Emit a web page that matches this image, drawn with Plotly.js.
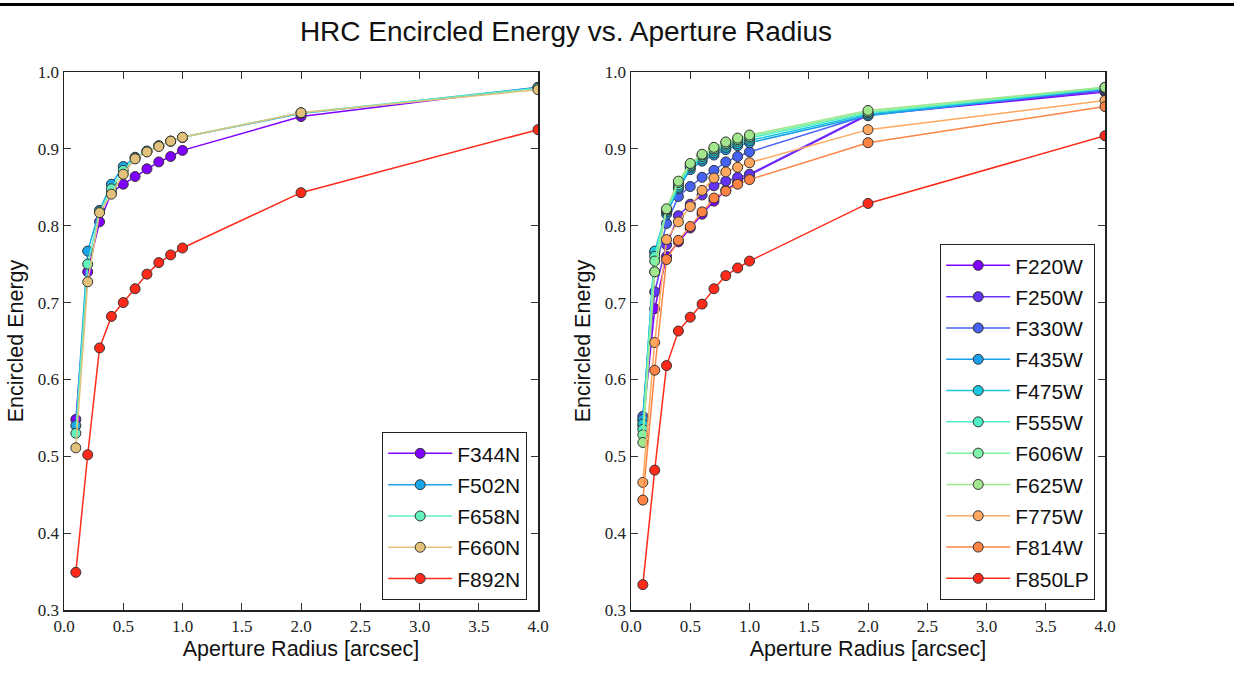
<!DOCTYPE html>
<html>
<head>
<meta charset="utf-8">
<script src="https://cdn.plot.ly/plotly-3.0.1.min.js"></script>
<style>
  html, body { margin: 0; padding: 0; background: #fff; }
  #topbar { position: absolute; left: 0; top: 3px; width: 1234px; height: 3px; background: #000; z-index: 5; }
  #chart { width: 1234px; height: 676px; }
</style>
</head>
<body>
<div id="topbar"></div>
<div id="chart"></div>
<script>
// Aperture radii (arcsec)
const radius = [0.1, 0.2, 0.3, 0.4, 0.5, 0.6, 0.7, 0.8, 0.9, 1.0, 2.0, 4.0];

// Left panel: narrow-band filters
const leftNames = ["F344N", "F502N", "F658N", "F660N", "F892N"];
const F344N = [0.548, 0.740, 0.805, 0.843, 0.854, 0.864, 0.874, 0.883, 0.890, 0.898, 0.942, 0.980];
const F502N = [0.540, 0.767, 0.820, 0.854, 0.877, 0.889, 0.897, 0.904, 0.910, 0.915, 0.946, 0.980];
const F658N = [0.530, 0.750, 0.818, 0.848, 0.872, 0.888, 0.897, 0.904, 0.910, 0.915, 0.947, 0.979];
const F660N = [0.511, 0.727, 0.817, 0.841, 0.867, 0.887, 0.896, 0.903, 0.910, 0.915, 0.947, 0.977];
const F892N = [0.349, 0.502, 0.641, 0.682, 0.700, 0.718, 0.737, 0.752, 0.762, 0.771, 0.843, 0.925];
const leftValues = [F344N, F502N, F658N, F660N, F892N];
const leftColors = ["#8000ff", "#1aa6e8", "#62f0bc", "#e2c27a", "#ff2a1a"];

// Right panel: wide-band and long-pass filters
const rightNames = ["F220W", "F250W", "F330W", "F435W", "F475W", "F555W", "F606W", "F625W", "F775W", "F814W", "F850LP"];
const F220W  = [0.540, 0.692, 0.760, 0.779, 0.797, 0.815, 0.832, 0.846, 0.857, 0.866, 0.944, 0.974];
const F250W  = [0.547, 0.714, 0.775, 0.813, 0.828, 0.840, 0.852, 0.858, 0.863, 0.867, 0.945, 0.975];
const F330W  = [0.552, 0.740, 0.803, 0.838, 0.851, 0.863, 0.872, 0.883, 0.890, 0.896, 0.944, 0.977];
const F435W  = [0.548, 0.765, 0.815, 0.848, 0.873, 0.884, 0.892, 0.899, 0.904, 0.908, 0.943, 0.978];
const F475W  = [0.542, 0.767, 0.818, 0.850, 0.876, 0.887, 0.895, 0.902, 0.907, 0.911, 0.945, 0.979];
const F555W  = [0.535, 0.760, 0.820, 0.853, 0.878, 0.890, 0.898, 0.905, 0.910, 0.914, 0.947, 0.979];
const F606W  = [0.528, 0.754, 0.821, 0.856, 0.880, 0.892, 0.900, 0.907, 0.912, 0.916, 0.948, 0.980];
const F625W  = [0.518, 0.740, 0.822, 0.858, 0.881, 0.893, 0.902, 0.909, 0.914, 0.918, 0.950, 0.980];
const F775W  = [0.466, 0.648, 0.782, 0.805, 0.825, 0.846, 0.862, 0.870, 0.876, 0.882, 0.925, 0.963];
const F814W  = [0.443, 0.612, 0.756, 0.781, 0.799, 0.818, 0.836, 0.845, 0.854, 0.860, 0.908, 0.955];
const F850LP = [0.333, 0.482, 0.618, 0.663, 0.681, 0.698, 0.718, 0.735, 0.745, 0.754, 0.829, 0.917];
const rightValues = [F220W, F250W, F330W, F435W, F475W, F555W, F606W, F625W, F775W, F814W, F850LP];
const rightColors = ["#8000ff", "#6633fa", "#4662f2", "#1a9fea", "#1cc6de", "#4ff0c8", "#7ef2a8", "#a2e68e", "#ffa860", "#ff8444", "#ff2a1a"];

// Tick labels
const xTicks = [0.0, 0.5, 1.0, 1.5, 2.0, 2.5, 3.0, 3.5, 4.0];
const xTickText = ["0.0", "0.5", "1.0", "1.5", "2.0", "2.5", "3.0", "3.5", "4.0"];
const yTicks = [0.3, 0.4, 0.5, 0.6, 0.7, 0.8, 0.9, 1.0];
const yTickText = ["0.3", "0.4", "0.5", "0.6", "0.7", "0.8", "0.9", "1.0"];

function mkTrace(name, y, color, xa, ya, legend, grp) {
  return {
    type: "scatter", mode: "lines+markers", name: name,
    x: radius, y: y, xaxis: xa, yaxis: ya, legend: legend, legendgroup: grp,
    line: { color: color, width: 1.5 },
    marker: { color: color, size: 10, line: { color: "#333333", width: 1 } }
  };
}

const traces = [];
leftNames.forEach((n, i) => traces.push(mkTrace(n, leftValues[i], leftColors[i], "x", "y", "legend", "L" + i)));
rightNames.forEach((n, i) => traces.push(mkTrace(n, rightValues[i], rightColors[i], "x2", "y2", "legend2", "R" + i)));

const W = 1234, H = 676;
const tickFont = { family: "Liberation Serif, DejaVu Serif, serif", size: 17, color: "#222" };
const titleFont = { family: "Liberation Sans, Arial, sans-serif", size: 21.5, color: "#111" };

function xAxis(dom, anchor) {
  return {
    domain: dom, anchor: anchor, range: [0, 4], tickvals: xTicks, ticktext: xTickText,
    ticks: "inside", ticklen: 7, tickwidth: 1, tickcolor: "#333", mirror: "ticks",
    showline: true, linecolor: "#222", linewidth: 1.5, showgrid: false, zeroline: false,
    tickfont: tickFont,
    title: { text: "Aperture Radius [arcsec]", font: titleFont, standoff: 6 }
  };
}
function yAxis(dom, anchor) {
  return {
    domain: dom, anchor: anchor, range: [0.3, 1.0], tickvals: yTicks, ticktext: yTickText,
    ticks: "inside", ticklen: 7, tickwidth: 1, tickcolor: "#333", mirror: "ticks",
    showline: true, linecolor: "#222", linewidth: 1.5, showgrid: false, zeroline: false,
    tickfont: tickFont,
    title: { text: "Encircled Energy", font: titleFont, standoff: 8 }
  };
}

const yDom = [1 - 610 / H, 1 - 72 / H];
const legendFont = { family: "Liberation Sans, Arial, sans-serif", size: 21, color: "#111" };

const layout = {
  width: W, height: H,
  margin: { l: 0, r: 0, t: 0, b: 0 },
  paper_bgcolor: "#fff", plot_bgcolor: "#fff",
  showlegend: true,
  title: {
    text: "HRC Encircled Energy vs. Aperture Radius",
    font: { family: "Liberation Sans, Arial, sans-serif", size: 28, color: "#111" },
    x: 566 / W, xanchor: "center", xref: "paper",
    y: 1 - 31 / H, yanchor: "middle", yref: "container"
  },
  xaxis: xAxis([64 / W, 538 / W], "y"),
  yaxis: yAxis(yDom, "x"),
  xaxis2: xAxis([631 / W, 1105 / W], "y2"),
  yaxis2: yAxis(yDom, "x2"),
  legend: {
    x: 527 / W, y: 1 - 600 / H, xanchor: "right", yanchor: "bottom", xref: "paper", yref: "paper",
    bgcolor: "#fff", bordercolor: "#222", borderwidth: 1.2, font: legendFont,
    itemwidth: 64, tracegroupgap: 1
  },
  legend2: {
    x: 1095 / W, y: 1 - 600 / H, xanchor: "right", yanchor: "bottom", xref: "paper", yref: "paper",
    bgcolor: "#fff", bordercolor: "#222", borderwidth: 1.2, font: legendFont,
    itemwidth: 64, tracegroupgap: 1
  }
};

Plotly.newPlot("chart", traces, layout, { displayModeBar: false, staticPlot: true });
</script>
</body>
</html>
